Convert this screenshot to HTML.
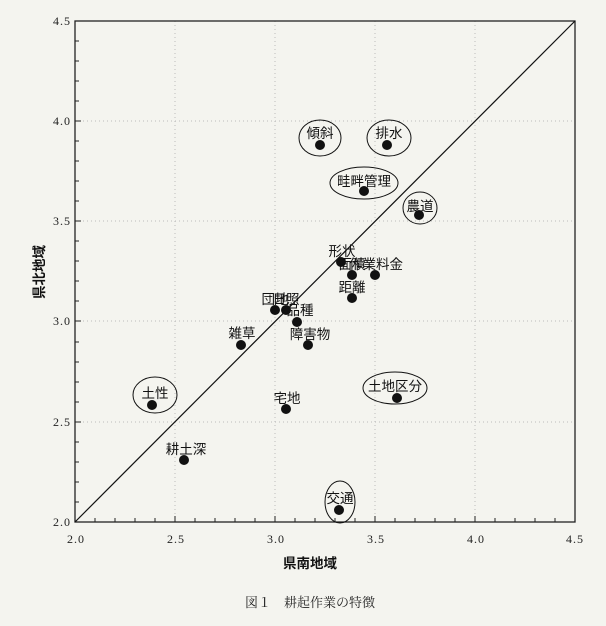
<!DOCTYPE html>
<html><head><meta charset="utf-8"><style>
body{margin:0;background:#f4f4ef;}
svg{display:block}
.t{font-family:"Liberation Sans","Noto Sans CJK JP",sans-serif;font-size:13.5px;fill:#111}
.n{font-family:"Liberation Serif","DejaVu Serif",serif;font-size:12px;fill:#222;letter-spacing:1px}
</style></head><body>
<svg width="606" height="626" viewBox="0 0 606 626">
<rect width="606" height="626" fill="#f4f4ef"/>
<g stroke="#bbb" stroke-dasharray="1,3" stroke-width="1">
<line x1="175" y1="21" x2="175" y2="522"/><line x1="275" y1="21" x2="275" y2="522"/><line x1="375" y1="21" x2="375" y2="522"/><line x1="475" y1="21" x2="475" y2="522"/>
<line x1="75" y1="121" x2="575" y2="121"/><line x1="75" y1="221" x2="575" y2="221"/><line x1="75" y1="321" x2="575" y2="321"/><line x1="75" y1="422" x2="575" y2="422"/>
</g>
<rect x="75" y="21" width="500" height="501" fill="none" stroke="#222" stroke-width="1.3"/>
<line x1="75" y1="522" x2="575" y2="21" stroke="#111" stroke-width="1.2"/>
<g stroke="#222" stroke-width="1">
<path d="M95 522v-4M115 522v-4M135 522v-4M155 522v-4M175 522v-6M195 522v-4M215 522v-4M235 522v-4M255 522v-4M275 522v-6M295 522v-4M315 522v-4M335 522v-4M355 522v-4M375 522v-6M395 522v-4M415 522v-4M435 522v-4M455 522v-4M475 522v-6M495 522v-4M515 522v-4M535 522v-4M555 522v-4"/>
<path d="M75 502h4M75 482h4M75 462h4M75 442h4M75 422h6M75 402h4M75 382h4M75 362h4M75 342h4M75 321h6M75 301h4M75 281h4M75 261h4M75 241h4M75 221h6M75 201h4M75 181h4M75 161h4M75 141h4M75 121h6M75 101h4M75 81h4M75 61h4M75 41h4"/>
</g>
<g class="n" text-anchor="middle">
<text x="76" y="543">2.0</text><text x="176" y="543">2.5</text><text x="276" y="543">3.0</text><text x="376" y="543">3.5</text><text x="476" y="543">4.0</text><text x="575" y="543">4.5</text>
</g>
<g class="n" text-anchor="end">
<text x="71" y="526">2.0</text><text x="71" y="426">2.5</text><text x="71" y="325">3.0</text><text x="71" y="225">3.5</text><text x="71" y="125">4.0</text><text x="71" y="25">4.5</text>
</g>
<text class="t" x="310" y="568" text-anchor="middle" font-size="15" font-weight="bold">県南地域</text>
<text class="t" transform="translate(44,272) rotate(-90)" text-anchor="middle" font-size="16" font-weight="bold">県北地域</text>
<text x="310" y="607" text-anchor="middle" style="font-family:'Liberation Serif','Noto Serif CJK SC',serif;font-size:13px;fill:#222">図１　耕起作業の特徴</text>
<g fill="none" stroke="#111" stroke-width="1">
<ellipse cx="320" cy="138" rx="21" ry="18"/><ellipse cx="389" cy="138" rx="22" ry="18"/>
<ellipse cx="364" cy="183" rx="34" ry="16"/><ellipse cx="420" cy="208" rx="17" ry="16"/>
<ellipse cx="155" cy="395" rx="22" ry="18"/><ellipse cx="395" cy="388" rx="32" ry="16"/>
<ellipse cx="340" cy="502" rx="15" ry="21"/>
</g>
<g fill="#111">
<circle cx="320" cy="145" r="5"/><circle cx="387" cy="145" r="5"/><circle cx="364" cy="191" r="5"/><circle cx="419" cy="215" r="5"/>
<circle cx="341" cy="262" r="5"/><circle cx="352" cy="275" r="5"/><circle cx="375" cy="275" r="5"/><circle cx="352" cy="298" r="5"/>
<circle cx="275" cy="310" r="5"/><circle cx="286" cy="310" r="5"/><circle cx="297" cy="322" r="5"/><circle cx="308" cy="345" r="5"/>
<circle cx="241" cy="345" r="5"/><circle cx="152" cy="405" r="5"/><circle cx="286" cy="409" r="5"/><circle cx="397" cy="398" r="5"/>
<circle cx="184" cy="460" r="5"/><circle cx="339" cy="510" r="5"/>
</g>
<g class="t" text-anchor="middle">
<text x="320" y="138">傾斜</text><text x="389" y="138">排水</text><text x="364" y="186">畦畔管理</text><text x="420" y="211">農道</text>
<text x="342" y="256">形状</text><text x="352" y="269">面積</text><text x="376" y="269">作業料金</text><text x="352" y="292">距離</text>
<text x="275" y="304">団地</text><text x="286" y="304">日照</text><text x="300" y="315">品種</text><text x="310" y="339">障害物</text>
<text x="242" y="338">雑草</text><text x="155" y="398">土性</text><text x="287" y="403">宅地</text><text x="395" y="391">土地区分</text>
<text x="186" y="454">耕土深</text><text x="340" y="503">交通</text>
</g>
</svg>
</body></html>
